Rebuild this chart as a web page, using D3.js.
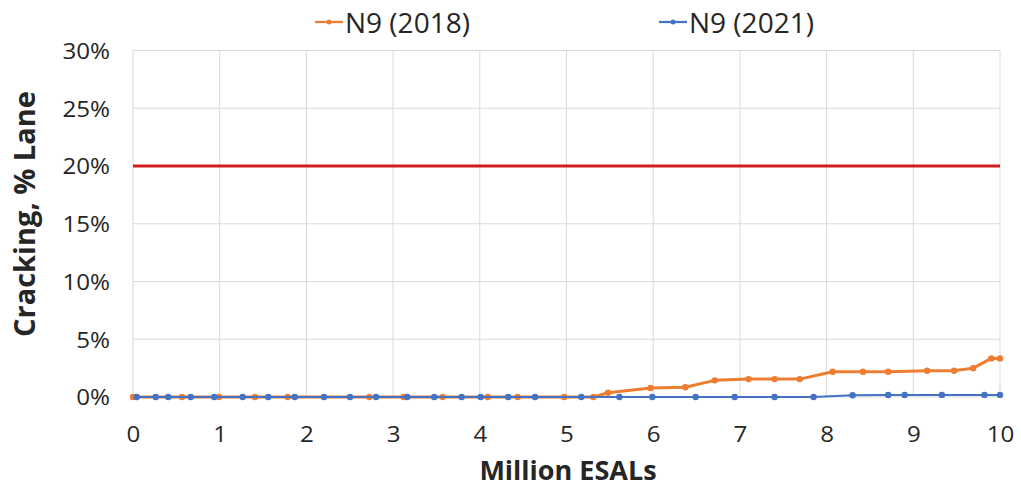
<!DOCTYPE html>
<html>
<head>
<meta charset="utf-8">
<script src="https://cdn.jsdelivr.net/npm/d3@7"></script>
<style>
  html, body { margin: 0; padding: 0; background: #fff; }
  svg { display: block; }
  text { font-family: "Open Sans", "Liberation Sans", sans-serif; fill: #262626; }
</style>
</head>
<body>
<svg id="chart" width="1021" height="489"></svg>
<script>
// ---- Data ----
const seriesNames = ["N9 (2018)", "N9 (2021)"];
const xTicks = [0, 1, 2, 3, 4, 5, 6, 7, 8, 9, 10];
const yTicks = [0, 5, 10, 15, 20, 25, 30];
const threshold = 20;

const n2018X = [0, 0.565, 0.992, 1.407, 1.784, 2.726, 3.122, 3.572, 4.091, 4.437, 4.974, 5.31, 5.48, 5.97, 6.37, 6.71, 7.10, 7.40, 7.69, 8.07, 8.42, 8.71, 9.16, 9.47, 9.69, 9.90, 10.0];
const n2018Y = [0, 0, 0, 0, 0, 0, 0, 0, 0, 0, 0, 0, 0.37, 0.78, 0.85, 1.44, 1.55, 1.55, 1.55, 2.18, 2.18, 2.18, 2.27, 2.27, 2.5, 3.34, 3.34];

const n2021X = [0.043, 0.262, 0.407, 0.665, 0.937, 1.265, 1.56, 1.865, 2.203, 2.503, 2.803, 3.164, 3.475, 3.791, 4.01, 4.328, 4.637, 5.17, 5.61, 5.99, 6.49, 6.94, 7.40, 7.85, 8.30, 8.71, 8.90, 9.33, 9.82, 10.0];
const n2021Y = [0, 0, 0, 0, 0, 0, 0, 0, 0, 0, 0, 0, 0, 0, 0, 0, 0, 0, 0, 0, 0, 0, 0, 0, 0.15, 0.17, 0.17, 0.18, 0.18, 0.18];

const colors = ["#ed7d31", "#4472c4"];
const SX = 1.15; // slight horizontal stretch of the reference tick text

const svg = d3.select("#chart");
const x = d3.scaleLinear().domain([0, 10]).range([133, 1000]);
const y = d3.scaleLinear().domain([0, 30]).range([397, 50.5]);

// gridlines
const grid = svg.append("g");
grid.selectAll("line.v").data(xTicks).join("line")
  .attr("x1", d => x(d)).attr("x2", d => x(d))
  .attr("y1", y(30)).attr("y2", y(0))
  .attr("stroke", "#d9d9d9").attr("stroke-width", 1);
grid.selectAll("line.h").data(yTicks).join("line")
  .attr("x1", x(0)).attr("x2", x(10))
  .attr("y1", d => y(d)).attr("y2", d => y(d))
  .attr("stroke", "#d9d9d9").attr("stroke-width", 1);

// axes
const xAxis = svg.append("g").attr("transform", `translate(0,${y(0)})`)
  .call(d3.axisBottom(x).tickValues(xTicks).tickFormat(d3.format("d")).tickSize(0).tickPadding(30));
xAxis.select(".domain").remove();
xAxis.selectAll("text").attr("font-size", 21).attr("font-family", "Open Sans")
  .attr("fill", "#262626").attr("transform", `scale(${SX},1)`);

const yAxis = svg.append("g").attr("transform", `translate(${x(0)},0)`)
  .call(d3.axisLeft(y).tickValues(yTicks).tickFormat(d => d + "%").tickSize(0));
yAxis.select(".domain").remove();
yAxis.selectAll("text").attr("font-size", 21).attr("font-family", "Open Sans")
  .attr("fill", "#262626").attr("x", -23 / SX).attr("dy", "0.38em")
  .attr("transform", `scale(${SX},1)`);

// threshold line
svg.append("line")
  .attr("x1", x(0)).attr("x2", x(10))
  .attr("y1", y(threshold)).attr("y2", y(threshold))
  .attr("stroke", "#d01c1f").attr("stroke-width", 3);

// series
const series = [
  { name: seriesNames[0], xs: n2018X, ys: n2018Y, color: colors[0], w: 3 },
  { name: seriesNames[1], xs: n2021X, ys: n2021Y, color: colors[1], w: 2 }
];
const line = d3.line().x(d => x(d[0])).y(d => y(d[1]));
series.forEach(s => {
  const pts = s.xs.map((v, i) => [v, s.ys[i]]);
  const g = svg.append("g");
  g.append("path").attr("d", line(pts)).attr("fill", "none")
    .attr("stroke", s.color).attr("stroke-width", s.w).attr("stroke-linejoin", "round");
  g.selectAll("circle").data(pts).join("circle")
    .attr("cx", d => x(d[0])).attr("cy", d => y(d[1])).attr("r", 3.2)
    .attr("fill", s.color);
});

// legend
const legendPos = [315, 659];
series.forEach((s, i) => {
  const lx = legendPos[i], ly = 22;
  svg.append("line").attr("x1", lx).attr("x2", lx + 28).attr("y1", ly).attr("y2", ly)
    .attr("stroke", s.color).attr("stroke-width", 2.25);
  svg.append("circle").attr("cx", lx + 14).attr("cy", ly).attr("r", 2.5).attr("fill", s.color);
  svg.append("text").attr("x", lx + 30).attr("y", 33)
    .attr("font-size", 28).text(s.name);
});

// axis titles
svg.append("text").attr("x", 568).attr("y", 480)
  .attr("text-anchor", "middle").attr("font-size", 27).attr("font-weight", "bold")
  .attr("fill", "#000").text("Million ESALs");

svg.append("text").attr("transform", `translate(35,214) rotate(-90)`)
  .attr("text-anchor", "middle").attr("font-size", 29).attr("font-weight", "bold")
  .attr("fill", "#000").text("Cracking, % Lane");
</script>
</body>
</html>
